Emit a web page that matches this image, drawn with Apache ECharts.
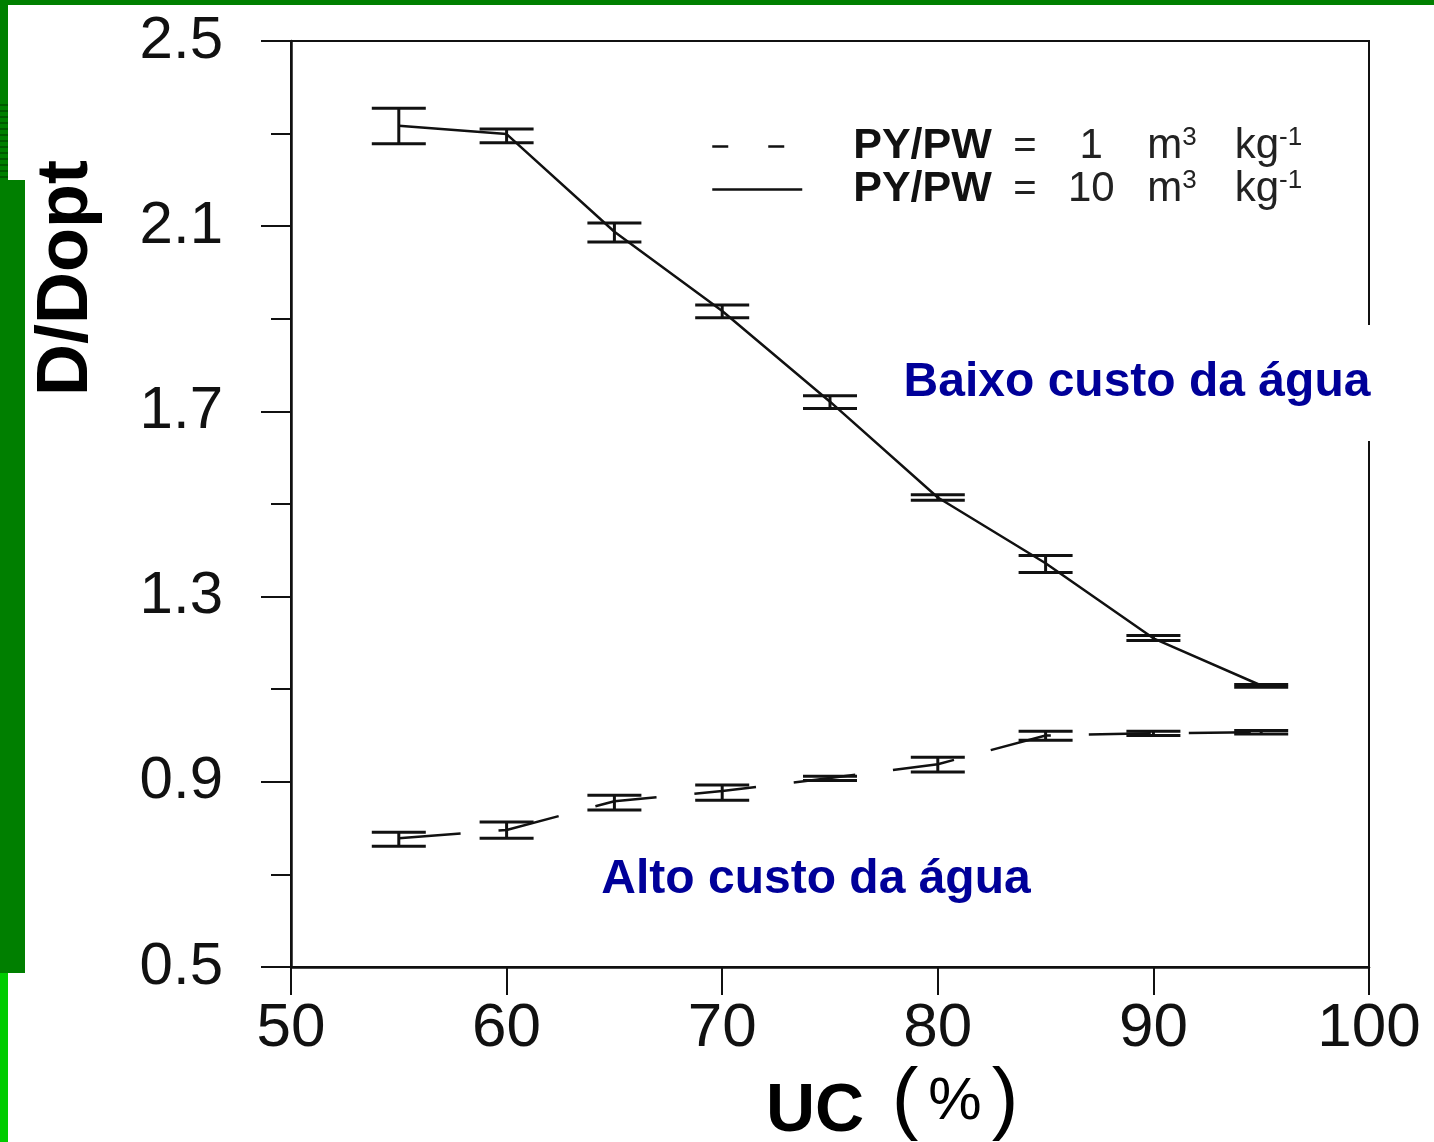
<!DOCTYPE html>
<html>
<head>
<meta charset="utf-8">
<script src="https://cdn.jsdelivr.net/npm/echarts@6/dist/echarts.min.js"></script>
<style>
  html, body { margin: 0; padding: 0; background: #fff; }
  #chart { width: 1434px; height: 1142px; }
</style>
</head>
<body>
<div id="chart"></div>
<script>
const uc = [55, 60, 65, 70, 75, 80, 85, 90, 95];

// PY/PW = 10 m3 kg-1 (baixo custo da agua)
const highRatioMean = [2.317, 2.299, 2.088, 1.917, 1.721, 1.514, 1.372, 1.21, 1.108];
const highRatioLow = [2.278, 2.28, 2.066, 1.902, 1.706, 1.508, 1.352, 1.205, 1.104];
const highRatioHigh = [2.355, 2.31, 2.107, 1.93, 1.734, 1.52, 1.389, 1.216, 1.11];

// PY/PW = 1 m3 kg-1 (alto custo da agua)
const lowRatioMean = [0.778, 0.796, 0.858, 0.88, 0.908, 0.938, 1.0, 1.005, 1.007];
const lowRatioLow = [0.761, 0.778, 0.839, 0.86, 0.903, 0.921, 0.99, 1.0, 1.003];
const lowRatioHigh = [0.791, 0.813, 0.871, 0.893, 0.912, 0.953, 1.009, 1.009, 1.011];

const seriesNames = ['PY/PW = 1', 'PY/PW = 10'];
const legendValues = ['1', '10'];

const chart = echarts.init(document.getElementById('chart'));

function zip(xs, ...cols) {
  return xs.map((x, i) => [x, ...cols.map((c) => c[i])]);
}

function renderErrorBar(params, api) {
  const x = api.value(0);
  const lo = api.coord([x, api.value(1)]);
  const hi = api.coord([x, api.value(2)]);
  const half = 27;
  const style = { stroke: '#111', lineWidth: 3 };
  return {
    type: 'group',
    children: [
      { type: 'line', shape: { x1: lo[0], y1: lo[1], x2: hi[0], y2: hi[1] }, style },
      { type: 'line', shape: { x1: lo[0] - half, y1: lo[1], x2: lo[0] + half, y2: lo[1] }, style },
      { type: 'line', shape: { x1: hi[0] - half, y1: hi[1], x2: hi[0] + half, y2: hi[1] }, style }
    ]
  };
}

const sans = 'Liberation Sans, Arial, sans-serif';

// green slide decoration
const stripes = [];
for (let y = 104; y < 180; y += 6) {
  stripes.push({ type: 'rect', z: 101, shape: { x: 0, y: y, width: 8, height: 2 }, style: { fill: '#005a00' } });
}

chart.setOption({
  animation: false,
  backgroundColor: '#fff',
  grid: { left: 291, right: 65, top: 41, bottom: 175, show: true, borderColor: '#111', borderWidth: 2 },
  xAxis: {
    type: 'value',
    min: 50,
    max: 100,
    interval: 10,
    axisLine: { lineStyle: { color: '#111', width: 2.5 } },
    axisTick: { length: 28, lineStyle: { color: '#111', width: 2 } },
    splitLine: { show: false },
    axisLabel: { color: '#111', fontFamily: sans, fontSize: 62, margin: 31 }
  },
  yAxis: {
    type: 'value',
    min: 0.5,
    max: 2.5,
    interval: 0.4,
    axisLine: { lineStyle: { color: '#111', width: 2.5 } },
    axisTick: { length: 30, lineStyle: { color: '#111', width: 2 } },
    minorTick: { show: true, splitNumber: 2, length: 20, lineStyle: { color: '#111', width: 2 } },
    splitLine: { show: false },
    axisLabel: {
      color: '#111', fontFamily: sans, fontSize: 60, margin: 68,
      formatter: (v) => v.toFixed(1)
    }
  },
  legend: {
    orient: 'vertical',
    left: 706,
    top: 120,
    itemWidth: 90,
    itemHeight: 12,
    itemGap: 0,
    selectedMode: false,
    data: [
      { name: seriesNames[0], itemStyle: { opacity: 0 }, lineStyle: { type: [16, 40], width: 2.5 } },
      { name: seriesNames[1], itemStyle: { opacity: 0 }, lineStyle: { type: 'solid', width: 2.5 } }
    ],
    formatter: (name) => {
      const v = legendValues[seriesNames.indexOf(name)];
      return '{b|PY/PW}{e|=}{v|' + v + '}{m|m}{s|3}{k|kg}{s|-1}';
    },
    textStyle: {
      color: '#222',
      fontFamily: sans,
      rich: {
        b: { fontFamily: sans, fontWeight: 'bold', fontSize: 43, color: '#111', padding: [0, 0, 0, 46], width: 160, lineHeight: 43 },
        e: { fontFamily: sans, fontSize: 40, color: '#222', width: 56, lineHeight: 43 },
        v: { fontFamily: sans, fontSize: 42, color: '#222', width: 44, align: 'right', lineHeight: 43 },
        m: { fontFamily: sans, fontSize: 42, color: '#222', padding: [0, 0, 0, 34], lineHeight: 43 },
        k: { fontFamily: sans, fontSize: 42, color: '#222', padding: [0, 0, 0, 38], lineHeight: 43 },
        s: { fontFamily: sans, fontSize: 26, color: '#222', verticalAlign: 'top', lineHeight: 43 }
      }
    }
  },
  series: [
    {
      name: seriesNames[0],
      type: 'line',
      data: zip(uc, lowRatioMean),
      symbol: 'none',
      lineStyle: { color: '#111', width: 2.5, type: [62, 38] },
      itemStyle: { color: '#111' },
      z: 3
    },
    {
      name: seriesNames[1],
      type: 'line',
      data: zip(uc, highRatioMean),
      symbol: 'none',
      lineStyle: { color: '#111', width: 2.5 },
      itemStyle: { color: '#111' },
      z: 3
    },
    {
      name: 'err1',
      type: 'custom',
      renderItem: renderErrorBar,
      data: zip(uc, lowRatioLow, lowRatioHigh),
      z: 4
    },
    {
      name: 'err10',
      type: 'custom',
      renderItem: renderErrorBar,
      data: zip(uc, highRatioLow, highRatioHigh),
      z: 4
    }
  ],
  graphic: [
    { type: 'rect', z: 100, shape: { x: 0, y: 0, width: 1434, height: 5 }, style: { fill: '#008000' } },
    { type: 'rect', z: 100, shape: { x: 0, y: 0, width: 8, height: 180 }, style: { fill: '#008000' } },
    ...stripes,
    { type: 'rect', z: 100, shape: { x: 0, y: 180, width: 25, height: 793 }, style: { fill: '#007f00' } },
    { type: 'rect', z: 100, shape: { x: 0, y: 973, width: 8, height: 169 }, style: { fill: '#00cc00' } },
    {
      type: 'text', z: 100, x: 67, y: 278, rotation: Math.PI / 2,
      style: { text: 'D/Dopt', fill: '#000', font: 'bold 72px ' + sans, align: 'center', verticalAlign: 'middle' }
    },
    {
      type: 'text', z: 100, x: 815, y: 1112,
      style: { text: 'UC', fill: '#000', font: 'bold 68px ' + sans, align: 'center', verticalAlign: 'middle' }
    },
    {
      type: 'text', z: 100, x: 955, y: 1102,
      style: {
        text: '{p|(}{c|%}{p|)}', align: 'center', verticalAlign: 'middle',
        rich: {
          p: { fontFamily: sans, fontSize: 80, color: '#222' },
          c: { fontFamily: sans, fontSize: 60, color: '#222', padding: [0, 10, 0, 10] }
        }
      }
    },
    {
      type: 'text', z: 100, x: 1137, y: 383,
      style: {
        text: 'Baixo custo da água', fill: '#000099', font: 'bold 48px ' + sans,
        align: 'center', verticalAlign: 'middle',
        backgroundColor: '#fff', padding: [34, 14, 34, 14]
      }
    },
    {
      type: 'text', z: 100, x: 816, y: 880,
      style: { text: 'Alto custo da água', fill: '#000099', font: 'bold 48px ' + sans, align: 'center', verticalAlign: 'middle' }
    }
  ]
});
</script>
</body>
</html>
